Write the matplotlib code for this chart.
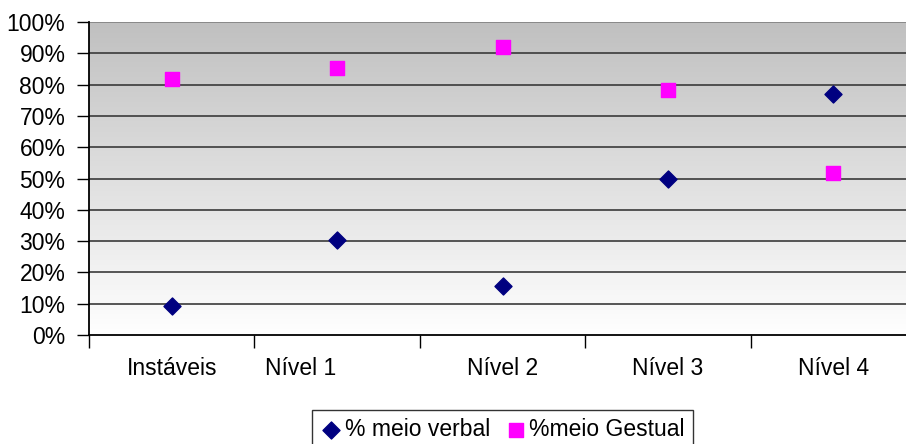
import matplotlib
matplotlib.use('Agg')
from matplotlib import pyplot as plt
from matplotlib.transforms import ScaledTranslation
import numpy as np

categorias = ['Instáveis', 'Nível 1', 'Nível 2', 'Nível 3', 'Nível 4']
verbal = [9.2, 30.3, 15.7, 50.0, 77.0]
gestual = [81.8, 85.3, 92.0, 78.3, 51.9]

plt.rcParams['font.family'] = ['Liberation Sans', 'DejaVu Sans']

fig = plt.figure(figsize=(9.06, 4.44), dpi=100)
W, H = 906, 444
# plot area runs a little past the right edge of the image
ax = fig.add_axes([89 / W, 1 - 335 / H, (916 - 89) / W, (335 - 22) / H])

x = np.arange(len(categorias))
ax.set_xlim(-0.5, len(categorias) - 0.5)
ax.set_ylim(0, 100)

# grey-to-white background
grad = np.linspace(0, 1, 256).reshape(-1, 1)
cmap = matplotlib.colors.LinearSegmentedColormap.from_list('bg', ['#ffffff', '#c0c0c0'])
ax.imshow(grad, aspect='auto', cmap=cmap, origin='lower',
          extent=[-0.5, len(categorias) - 0.5, 0, 100], zorder=0)

for v in range(10, 101, 10):
    ax.axhline(v, color='#3a3a3a' if v < 100 else '#808080', lw=1.2, zorder=1)

ax.scatter(x, verbal, marker='D', s=75, color='#000080', zorder=3, label='% meio verbal')
ax.scatter(x, gestual, marker='s', s=110, color='#ff00ff', zorder=3, label='%meio Gestual')

fs = 16.5
ax.set_yticks(range(0, 101, 10))
ax.set_yticklabels([f'{v}%' for v in range(0, 101, 10)], fontsize=fs)
ax.tick_params(axis='y', length=9, width=1, pad=8, direction='out')

ax.set_xticks(np.arange(-0.5, len(categorias)), minor=True)
ax.set_xticks(x)
ax.set_xticklabels(categorias, fontsize=fs)
ax.tick_params(axis='x', which='major', length=0, pad=16)
ax.tick_params(axis='x', which='minor', length=9, width=1, direction='out')
# second label sits left of its category
lbl = ax.get_xticklabels()[1]
lbl.set_transform(lbl.get_transform() + ScaledTranslation(-0.36, 0, fig.dpi_scale_trans))

for s in ['top', 'right']:
    ax.spines[s].set_visible(False)
ax.spines['left'].set_linewidth(1.3)
ax.spines['bottom'].set_linewidth(1.3)

leg = fig.legend(loc='upper left', bbox_to_anchor=(312 / W, 1 - 410 / H), ncol=2,
                 fontsize=fs, frameon=True, fancybox=False, edgecolor='black',
                 handletextpad=0.1, columnspacing=0.6, handlelength=1.0,
                 borderpad=0.35, borderaxespad=0)
leg.get_frame().set_linewidth(1)

fig.savefig('out.png', dpi=100)
